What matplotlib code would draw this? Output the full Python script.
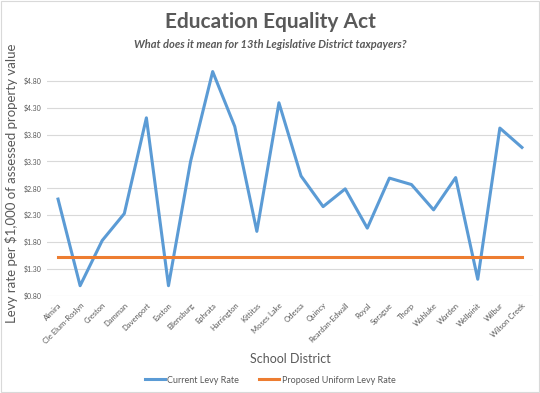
import matplotlib.pyplot as plt
import numpy as np

districts = ["Almira", "Cle Elum-Roslyn", "Creston", "Damman", "Davenport", "Easton",
             "Ellensburg", "Ephrata", "Harrington", "Kittitas", "Moses Lake", "Odessa",
             "Quincy", "Reardan-Edwall", "Royal", "Sprague", "Thorp", "Wahluke",
             "Warden", "Wellpinit", "Wilbur", "Wilson Creek"]
current_rate = [2.60, 0.99, 1.83, 2.33, 4.11, 0.99, 3.30, 4.97, 3.95, 2.00, 4.39, 3.03,
                2.46, 2.79, 2.06, 2.99, 2.87, 2.40, 3.00, 1.11, 3.92, 3.56]
proposed_rate = [1.53] * len(districts)
yticks = [0.80, 1.30, 1.80, 2.30, 2.80, 3.30, 3.80, 4.30, 4.80]

grey = "#595959"
plt.rcParams['font.family'] = ['Lato', 'DejaVu Sans']

fig = plt.figure(figsize=(5.4, 3.93), dpi=100)
fig.patches.append(plt.Rectangle((0.002, 0.003), 0.996, 0.994, transform=fig.transFigure,
                                 fill=False, edgecolor="#d9d9d9", lw=0.8))
ax = fig.add_axes([0.087, 0.247, 0.9, 0.575])

x = np.arange(len(districts))
ax.plot(x, current_rate, color="#5b9bd5", lw=2.2, label="Current Levy Rate", zorder=3)
ax.plot(x, proposed_rate, color="#ed7d31", lw=2.2, label="Proposed Uniform Levy Rate", zorder=3)

ax.set_xlim(-0.5, len(districts) - 0.5)
ax.set_ylim(0.80, 5.0)
ax.set_yticks(yticks)
ax.set_yticklabels(["$%.2f" % v for v in yticks], fontsize=5, color=grey)
ax.set_xticks(x)
ax.set_xticklabels(districts, rotation=45, ha="right", rotation_mode="anchor",
                   fontsize=5.5, color=grey)
ax.tick_params(length=0, pad=4)
ax.grid(axis="y", color="#d9d9d9", lw=0.8)
for s in ax.spines.values():
    s.set_visible(False)

ax.set_ylabel("Levy rate per $1,000 of assessed property value", fontsize=9.5, color=grey)
ax.set_xlabel("School District", fontsize=9, color=grey, labelpad=6)

fig.text(0.5, 0.945, "Education Equality Act", ha="center", va="center",
         fontsize=15, fontweight="bold", color=grey)
fig.text(0.5, 0.888, "What does it mean for 13th Legislative District taxpayers?",
         ha="center", va="center", fontsize=8, fontweight="bold", style="italic", color=grey)

fig.legend(loc="center", bbox_to_anchor=(0.5, 0.033), ncol=2, frameon=False,
           fontsize=6.5, handlelength=2.2, handletextpad=0.3, columnspacing=2.2,
           labelcolor=grey)

fig.savefig("out.png", dpi=100)
